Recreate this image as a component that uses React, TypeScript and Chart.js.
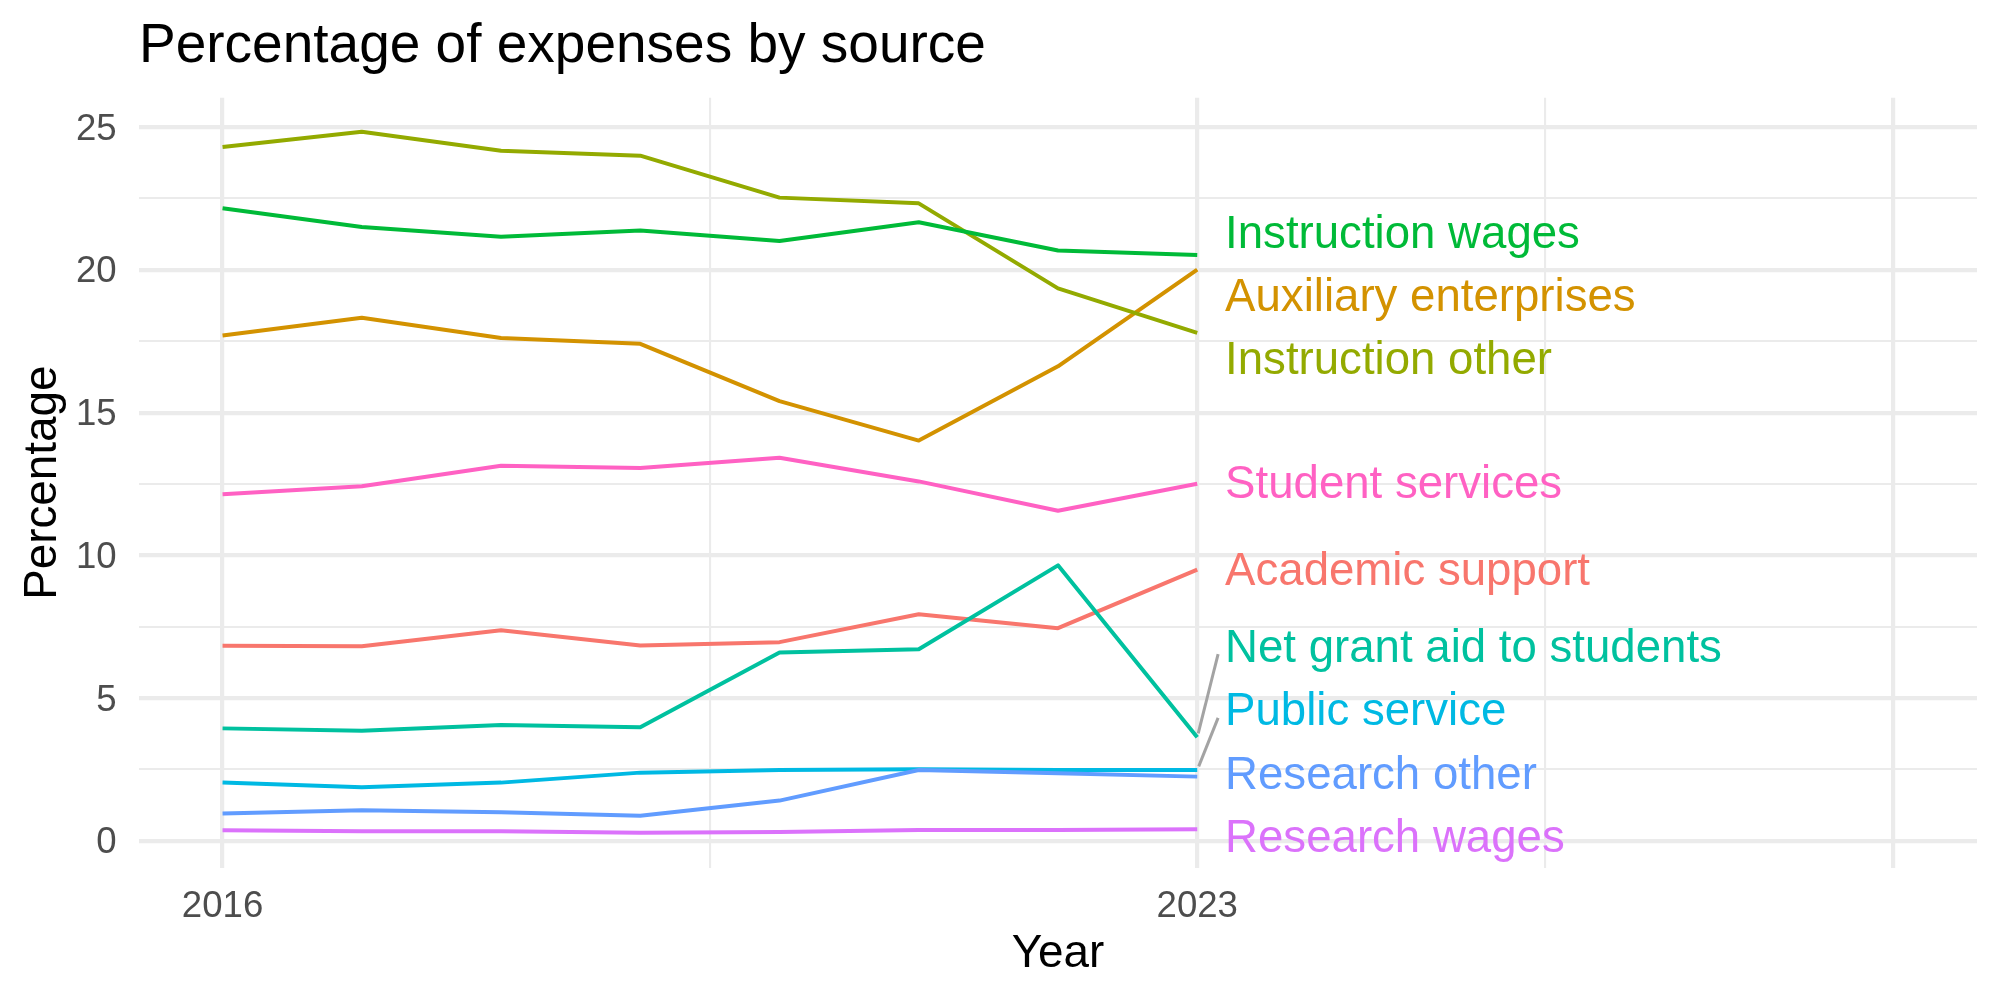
import React, { useEffect, useRef } from 'react';
import { Chart, registerables } from 'chart.js';

Chart.register(...registerables);

const FONT = '"Liberation Sans", Arial, Helvetica, sans-serif';

const years = [2016, 2017, 2018, 2019, 2020, 2021, 2022, 2023];

const seriesNames = [
  'Academic support',
  'Auxiliary enterprises',
  'Instruction other',
  'Instruction wages',
  'Net grant aid to students',
  'Public service',
  'Research other',
  'Research wages',
  'Student services',
];

const seriesColors = [
  '#F8766D',
  '#D39200',
  '#93AA00',
  '#00BA38',
  '#00C19F',
  '#00B9E3',
  '#619CFF',
  '#DB72FB',
  '#FF61C3',
];

const academicSupport = [6.83, 6.82, 7.38, 6.84, 6.96, 7.94, 7.45, 9.5];
const auxiliaryEnterprises = [17.7, 18.32, 17.61, 17.41, 15.4, 14.02, 16.62, 20.01];
const instructionOther = [24.3, 24.84, 24.17, 24.0, 22.53, 22.33, 19.35, 17.79];
const instructionWages = [22.16, 21.5, 21.16, 21.38, 21.01, 21.67, 20.68, 20.52];
const netGrantAid = [3.94, 3.86, 4.06, 3.98, 6.6, 6.71, 9.65, 3.63];
const publicService = [2.04, 1.88, 2.04, 2.39, 2.48, 2.51, 2.48, 2.48];
const researchOther = [0.96, 1.07, 1.0, 0.88, 1.41, 2.48, 2.37, 2.25];
const researchWages = [0.37, 0.34, 0.34, 0.28, 0.31, 0.38, 0.38, 0.41];
const studentServices = [12.14, 12.42, 13.14, 13.06, 13.42, 12.59, 11.56, 12.51];

const seriesValues = [
  academicSupport,
  auxiliaryEnterprises,
  instructionOther,
  instructionWages,
  netGrantAid,
  publicService,
  researchOther,
  researchWages,
  studentServices,
];

// End-of-line label placement (repelled positions, in data units)
const labelX = 2023.2;
const labelY = [9.48, 19.08, 16.89, 21.28, 6.8, 4.57, 2.36, 0.14, 12.52];
const leaderLineSeries = ['Net grant aid to students', 'Public service'];

// Axis breaks
const xTickValues = [2016, 2019.5, 2023, 2025.5, 2028];
const xMajorTicks = [2016, 2023, 2028];
const xTickLabels = ['2016', '2023'];
const yTickValues = [0, 2.5, 5, 7.5, 10, 12.5, 15, 17.5, 20, 22.5, 25];
const yTickLabels = ['0', '5', '10', '15', '20', '25'];

const titleText = 'Percentage of expenses by source';
const xTitle = 'Year';
const yTitle = 'Percentage';

const GRID = '#EBEBEB';
const MAJOR_W = 4.2;
const MINOR_W = 2.1;
// canvas "middle" baseline sits a little above the cap-height centre
const TEXT_SHIFT = 2.5;

const labelPlugin = {
  id: 'endLabels',
  afterDatasetsDraw(chart: any) {
    const { ctx, scales } = chart;
    const xs = scales.x;
    const ys = scales.y;
    ctx.save();
    // leader segments
    ctx.strokeStyle = '#A3A3A3';
    ctx.lineWidth = 3;
    ctx.lineCap = 'butt';
    leaderLineSeries.forEach((name) => {
      const i = seriesNames.indexOf(name);
      const vals = seriesValues[i];
      const px = xs.getPixelForValue(years[years.length - 1]);
      const py = ys.getPixelForValue(vals[vals.length - 1]);
      const ex = xs.getPixelForValue(labelX) - 7;
      const ey = ys.getPixelForValue(labelY[i]) + 7.5;
      const dx = ex - px;
      const dy = ey - py;
      const len = Math.hypot(dx, dy);
      ctx.beginPath();
      ctx.moveTo(px + (dx / len) * 4, py + (dy / len) * 4);
      ctx.lineTo(ex, ey);
      ctx.stroke();
    });
    // labels
    ctx.font = `45.6px ${FONT}`;
    ctx.textAlign = 'left';
    ctx.textBaseline = 'middle';
    seriesNames.forEach((name, i) => {
      ctx.fillStyle = seriesColors[i];
      ctx.fillText(
        name,
        xs.getPixelForValue(labelX),
        ys.getPixelForValue(labelY[i]) + TEXT_SHIFT
      );
    });
    ctx.restore();
  },
  afterDraw(chart: any) {
    const { ctx, chartArea } = chart;
    ctx.save();
    ctx.font = `55px ${FONT}`;
    ctx.fillStyle = '#000000';
    ctx.textAlign = 'left';
    ctx.textBaseline = 'alphabetic';
    ctx.fillText(titleText, chartArea.left, 62);
    ctx.restore();
  },
};

export default function App() {
  const ref = useRef<HTMLCanvasElement>(null);

  useEffect(() => {
    if (!ref.current) return;
    const order = seriesNames.map((_, i) => i).reverse();
    const chart = new Chart(ref.current, {
      type: 'line',
      data: {
        datasets: order.map((i) => ({
          label: seriesNames[i],
          data: years.map((yr, k) => ({ x: yr, y: seriesValues[i][k] })),
          borderColor: seriesColors[i],
          backgroundColor: seriesColors[i],
          borderWidth: 4,
          pointRadius: 0,
          pointHoverRadius: 0,
          tension: 0,
          fill: false,
          borderJoinStyle: 'round' as const,
          borderCapStyle: 'butt' as const,
        })),
      },
      options: {
        responsive: false,
        animation: false,
        devicePixelRatio: 1,
        events: [],
        layout: { padding: { left: 0, right: 23, top: 97.7, bottom: 0 } },
        plugins: {
          legend: { display: false },
          tooltip: { enabled: false },
          title: { display: false },
        },
        scales: {
          x: {
            type: 'linear',
            min: 2015.4,
            max: 2028.6,
            bounds: 'data',
            afterBuildTicks: (s: any) => {
              s.ticks = xTickValues.map((v) => ({ value: v }));
            },
            afterFit: (s: any) => {
              s.height = 132.3;
            },
            grid: {
              color: GRID,
              drawTicks: false,
              lineWidth: (c: any) =>
                c.tick && xMajorTicks.includes(c.tick.value) ? MAJOR_W : MINOR_W,
            },
            border: { display: false },
            ticks: {
              autoSkip: false,
              maxRotation: 0,
              minRotation: 0,
              padding: 17.4,
              color: '#4D4D4D',
              font: { size: 36.6, family: FONT },
              callback: (v: any) => {
                const s = String(v);
                return xTickLabels.includes(s) ? s : '';
              },
            },
            title: {
              display: true,
              text: xTitle,
              color: '#000000',
              font: { size: 45.8, family: FONT },
              padding: { top: 0, bottom: 18.5 },
            },
          },
          y: {
            type: 'linear',
            min: -0.94,
            max: 26.03,
            bounds: 'data',
            afterBuildTicks: (s: any) => {
              s.ticks = yTickValues.map((v) => ({ value: v }));
            },
            afterFit: (s: any) => {
              s.width = 139;
            },
            grid: {
              color: GRID,
              drawTicks: false,
              lineWidth: (c: any) =>
                c.tick && yTickLabels.includes(String(c.tick.value)) ? MAJOR_W : MINOR_W,
            },
            border: { display: false },
            ticks: {
              autoSkip: false,
              padding: 22.3,
              labelOffset: TEXT_SHIFT,
              color: '#4D4D4D',
              font: { size: 36.6, family: FONT },
              callback: (v: any) => {
                const s = String(v);
                return yTickLabels.includes(s) ? s : '';
              },
            },
            title: {
              display: true,
              text: yTitle,
              color: '#000000',
              font: { size: 45.8, family: FONT },
              padding: { top: 15.5, bottom: 0 },
            },
          },
        },
      },
      plugins: [labelPlugin],
    } as any);
    return () => chart.destroy();
  }, []);

  return (
    <div
      style={{
        position: 'absolute',
        left: 0,
        top: 0,
        width: 2000,
        height: 1000,
        background: '#ffffff',
      }}
    >
      <canvas
        ref={ref}
        width={2000}
        height={1000}
        style={{ display: 'block', width: 2000, height: 1000 }}
      />
    </div>
  );
}
